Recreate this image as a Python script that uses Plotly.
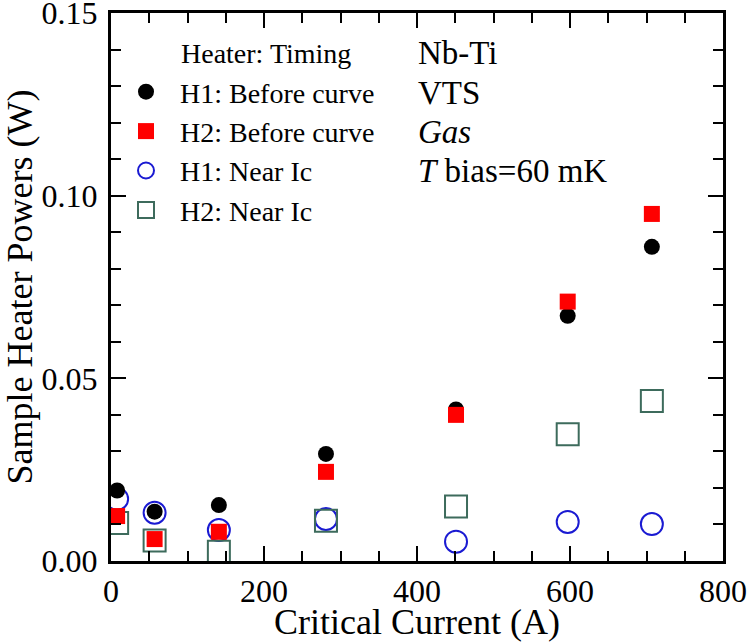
import plotly.graph_objects as go

current = [8, 57, 141, 281, 451, 597, 707]
h1_before = [0.0193, 0.0135, 0.0153, 0.0293, 0.0415, 0.0671, 0.086]
h2_before = [0.0123, 0.006, 0.008, 0.0244, 0.040, 0.071, 0.095]
h1_near = [0.017, 0.0132, 0.0085, 0.0115, 0.0053, 0.0107, 0.0101]
h2_near = [0.0104, 0.0056, 0.0025, 0.011, 0.0149, 0.0347, 0.0438]

series_names = ["H1: Before curve", "H2: Before curve", "H1: Near Ic", "H2: Near Ic"]
x_ticks = [0, 200, 400, 600, 800]
y_ticks = [0.0, 0.05, 0.10, 0.15]
info_lines = ["Nb-Ti", "VTS", "<i>Gas</i>", "<i>T</i> bias=60 mK"]

FONT = "Liberation Serif, Times New Roman, serif"
NB = "\u00a0\u00a0"

fig = go.Figure()
fig.add_trace(go.Scatter(x=current, y=h1_near, mode="markers", name=NB + series_names[2],
                         legendrank=3, legendgroup="c",
                         marker=dict(symbol="circle-open", size=22, color="#1a1ad2",
                                     line=dict(width=2, color="#1a1ad2"))))
fig.add_trace(go.Scatter(x=current, y=h2_near, mode="markers", name=NB + series_names[3],
                         legendrank=4, legendgroup="d",
                         marker=dict(symbol="square-open", size=22, color="#3d6b5c",
                                     line=dict(width=2, color="#3d6b5c"))))
fig.add_trace(go.Scatter(x=current, y=h1_before, mode="markers", name=NB + series_names[0],
                         legendrank=1, legendgroup="a",
                         marker=dict(symbol="circle", size=16, color="black")))
fig.add_trace(go.Scatter(x=current, y=h2_before, mode="markers", name=NB + series_names[1],
                         legendrank=2, legendgroup="b",
                         marker=dict(symbol="square", size=16, color="#ff0000")))

axis_common = dict(showline=True, linewidth=3, linecolor="black", mirror="ticks",
                   ticks="inside", ticklen=15, tickwidth=2, tickcolor="black",
                   showgrid=False, zeroline=False, automargin=False,
                   ticklabeloverflow="allow",
                   tickfont=dict(family=FONT, size=32, color="black"))

fig.update_xaxes(range=[0, 800], tickvals=x_ticks, ticklabelstandoff=0,
                 minor=dict(dtick=50, ticks="inside", ticklen=10, tickwidth=2, tickcolor="black"),
                 title=dict(text="Critical Current (A)", font=dict(family=FONT, size=36, color="black"),
                            standoff=0),
                 **axis_common)
fig.update_yaxes(range=[0, 0.15], tickvals=y_ticks, tickformat=".2f", ticklabelstandoff=4,
                 minor=dict(dtick=0.01, ticks="inside", ticklen=10, tickwidth=2, tickcolor="black"),
                 title=dict(text="Sample Heater Powers (W)", font=dict(family=FONT, size=36, color="black"),
                            standoff=4),
                 **axis_common)

fig.add_annotation(text="Heater: Timing", xref="paper", yref="paper", x=(179-111)/612,
                   y=(561-54)/548, xanchor="left", yanchor="middle", showarrow=False,
                   font=dict(family=FONT, size=28, color="black"))

info_y = [53, 93, 132, 171]
for line, py in zip(info_lines, info_y):
    fig.add_annotation(text=line, xref="paper", yref="paper", x=(416-111)/612,
                       y=(561-py)/548, xanchor="left", yanchor="middle",
                       showarrow=False, font=dict(family=FONT, size=33, color="black"))

fig.update_layout(
    width=749, height=642,
    margin=dict(l=111, r=26, t=13, b=81),
    paper_bgcolor="white", plot_bgcolor="white",
    showlegend=True,
    legend=dict(x=(126-111)/612, y=(561-67)/548, xanchor="left", yanchor="top",
                bgcolor="rgba(0,0,0,0)", tracegroupgap=0, itemwidth=30,
                font=dict(family=FONT, size=28, color="black")),
)

fig.write_html("out.html", config={"displayModeBar": False},
               post_script="document.body.style.margin='0';")
